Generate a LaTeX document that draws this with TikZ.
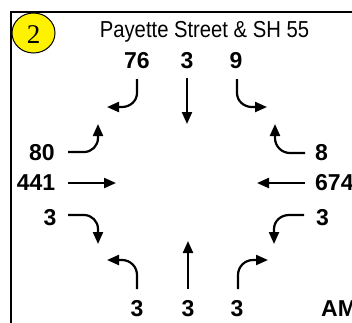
\documentclass[tikz,border=0pt]{standalone}
\usepackage{fontspec}
\setmainfont{Liberation Sans}
\newfontfamily\serifnum{Liberation Serif}
\usetikzlibrary{arrows.meta,shapes.geometric}
\begin{document}
\begin{tikzpicture}[x=1pt,y=-1pt,
  vol/.style={font=\fontsize{23}{23}\selectfont\bfseries, inner sep=0pt},
  mvt/.style={line width=2.2pt, -{Triangle[length=12pt,width=10pt]}}]
\useasboundingbox (0,0) rectangle (352,322);
\fill[white] (0,0) rectangle (352,322);
% frame
\draw[line width=2pt] (11,340) -- (11,12) -- (370,12);
% id bubble
\node[draw, line width=1pt, fill=yellow, ellipse, minimum width=43pt, minimum height=40pt, inner sep=0pt] (id) at (33.5,33) {};
\node[font=\serifnum\fontsize{27}{27}\selectfont, inner sep=0pt] (idtxt) at (33.5,35) {2};
% title
\node[font=\fontsize{22}{22}\selectfont, anchor=base, inner sep=0pt, xscale=0.92, yscale=1.05] (title) at (204.5,37) {Payette Street \& SH 55};
% volumes
\node[vol] (nl) at (137,61) {76};
\node[vol] (nt) at (187,61) {3};
\node[vol] (nr) at (236,61) {9};
\node[vol] (el) at (42,153) {80};
\node[vol] (et) at (36,183) {441};
\node[vol] (er) at (50,218) {3};
\node[vol, anchor=west] (wr) at (315,153) {8};
\node[vol, anchor=west] (wt) at (315,183) {674};
\node[vol, anchor=west] (wl) at (316,218) {3};
\node[vol] (sl) at (137,309) {3};
\node[vol] (st) at (188,309) {3};
\node[vol] (sr) at (237,309) {3};
\node[vol, anchor=west] (am) at (321,309) {AM};
% coordinates
\coordinate (nl1) at (137,79); \coordinate (nl2) at (107,107);
\coordinate (nt1) at (187,78); \coordinate (nt2) at (187,124);
\coordinate (nr1) at (237,79); \coordinate (nr2) at (267,107);
\coordinate (el1) at (68,152); \coordinate (el2) at (98,124);
\coordinate (et1) at (68,183); \coordinate (et2) at (116,183);
\coordinate (er1) at (68,215); \coordinate (er2) at (98,244);
\coordinate (wr1) at (305,153); \coordinate (wr2) at (275,124);
\coordinate (wt1) at (305,183); \coordinate (wt2) at (257,183);
\coordinate (wl1) at (304,215); \coordinate (wl2) at (274,244);
\coordinate (sl1) at (137,289); \coordinate (sl2) at (107,260);
\coordinate (st1) at (188,289); \coordinate (st2) at (188,241);
\coordinate (sr1) at (238,289); \coordinate (sr2) at (268,260);
% arrows
\draw[mvt] (nl1) -- (137,93) to[out=-90,in=0] (122,107) -- (nl2);
\draw[mvt] (nt1) -- (nt2);
\draw[mvt] (nr1) -- (237,93) to[out=-90,in=180] (252,107) -- (nr2);
\draw[mvt] (el1) -- (84,152) to[out=0,in=-90] (98,138) -- (el2);
\draw[mvt] (et1) -- (et2);
\draw[mvt] (er1) -- (84,215) to[out=0,in=90] (98,229) -- (er2);
\draw[mvt] (wr1) -- (290,153) to[out=180,in=-90] (275,138) -- (wr2);
\draw[mvt] (wt1) -- (wt2);
\draw[mvt] (wl1) -- (289,215) to[out=180,in=90] (274,229) -- (wl2);
\draw[mvt] (sl1) -- (137,275) to[out=90,in=0] (122,260) -- (sl2);
\draw[mvt] (st1) -- (st2);
\draw[mvt] (sr1) -- (238,275) to[out=90,in=180] (253,260) -- (sr2);
\end{tikzpicture}
\end{document}
